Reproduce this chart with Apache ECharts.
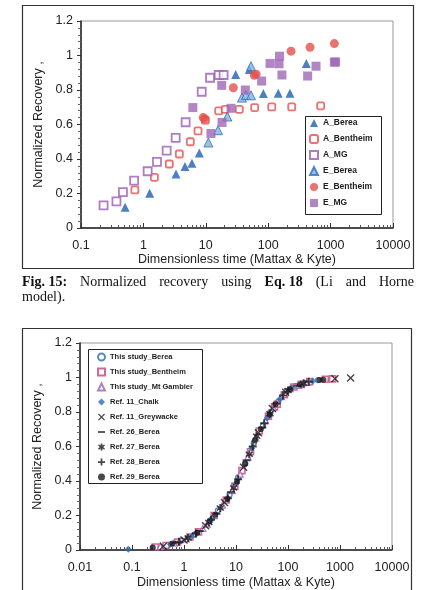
<!DOCTYPE html>
<html>
<head>
<meta charset="utf-8">
<script src="https://cdn.jsdelivr.net/npm/echarts@6/dist/echarts.min.js"></script>
<style>
  html, body { margin: 0; padding: 0; background: #fff; }
  #chart { width: 423px; height: 590px; }
</style>
</head>
<body>
<div id="chart"></div>
<script>
// ---- Fig. 15 (Li and Horne model): [dimensionless time, normalized recovery]
const aBerea = [[0.51,0.121],[1.26,0.202],[3.33,0.313],[4.64,0.356],[6.0,0.375],[7.87,0.435],[30.1,0.89],[49.9,0.919],[83.6,0.779],[145,0.781],[223,0.781],[408,0.954]];
const aBentheim = [[0.73,0.221],[1.5,0.294],[2.6,0.371],[3.77,0.429],[5.65,0.5],[7.5,0.563],[9.84,0.625],[16.1,0.679],[20.5,0.688],[34.4,0.688],[60.7,0.698],[114,0.702],[238,0.702],[693,0.708]];
const aMG = [[0.23,0.131],[0.37,0.154],[0.47,0.208],[0.71,0.275],[1.17,0.329],[1.65,0.383],[2.36,0.448],[3.29,0.523],[4.75,0.613],[8.6,0.79],[11.7,0.871],[16.1,0.887],[19.3,0.887]];
const eBerea = [[11,0.496],[15.7,0.567],[22.1,0.646],[38,0.756],[44,0.771],[53,0.769],[53,0.938]];
const eBentheim = [[9.1,0.64],[9.6,0.632],[27.6,0.813],[60,0.885],[64,0.892],[232,1.025],[468,1.048],[1148,1.069]];
const eMG = [[6.2,0.698],[12.1,0.548],[18.2,0.612],[18,0.827],[25.4,0.694],[43,0.8],[78.5,0.852],[107,0.954],[149,0.952],[152,0.996],[166,0.887],[429,0.881],[584,0.938],[1148,0.962],[1200,0.962]];

// ---- lower chart (all data sets)
const thisBerea = [[0.26,0.016],[0.5,0.03],[0.9,0.055],[1.6,0.09],[3.2,0.17],[4.5,0.23],[7.5,0.32],[11,0.42],[15,0.5],[22,0.62],[33,0.72],[46,0.8],[65,0.86],[95,0.92],[140,0.95],[210,0.967],[380,0.985]];
const thisBentheim = [[0.28,0.017],[0.45,0.026],[0.75,0.046],[1.3,0.075],[1.9,0.105],[3.8,0.2],[6.5,0.29],[9.5,0.37],[13,0.46],[19,0.57],[28,0.69],[42,0.775],[55,0.83],[62,0.845],[85,0.9],[130,0.945],[180,0.96],[260,0.976],[520,0.99],[720,0.992]];
const thisMtGambier = [[0.35,0.02],[0.65,0.04],[1.1,0.064],[2.3,0.125],[2.8,0.15],[5.5,0.26],[8.5,0.345],[12,0.44],[17,0.54],[24,0.65],[37,0.75],[52,0.825],[75,0.89],[110,0.935],[160,0.955],[230,0.972]];
const ref11Chalk = [[0.085,0.004],[0.55,0.034],[1.4,0.08],[3.5,0.185],[10,0.385],[20,0.59],[40,0.765],[70,0.875],[120,0.94],[300,0.98]];
const ref11Greywacke = [[0.4,0.022],[1.0,0.058],[2.6,0.14],[6,0.275],[14,0.48],[27,0.68],[50,0.82],[90,0.915],[800,0.993],[1600,0.997]];
const ref26Berea = [[0.7,0.042],[2,0.11],[4.2,0.21],[8,0.335],[16,0.52],[32,0.71],[60,0.85],[150,0.952]];
const ref27Berea = [[1.2,0.07],[3,0.16],[5,0.243],[9,0.36],[18,0.555],[25,0.66],[45,0.79],[100,0.925],[200,0.966]];
const ref28Berea = [[0.8,0.048],[1.7,0.095],[3.3,0.175],[7,0.3],[11,0.41],[21,0.6],[35,0.735],[80,0.895],[250,0.975]];
const ref29Berea = [[0.25,0.015],[0.6,0.037],[1.8,0.1],[4,0.205],[6.8,0.295],[10.5,0.395],[15,0.5],[23,0.635],[30,0.7],[44,0.785],[58,0.845],[110,0.932],[170,0.958],[400,0.986],[480,0.987]];

const captionWords = [['Fig. 15:', true], ['Normalized'], ['recovery'], ['using'], ['Eq. 18', true], ['(Li'], ['and'], ['Horne']];
const captionTail = 'model).';

const SANS = '"Liberation Sans", Arial, sans-serif';
const SERIF = '"Liberation Serif", "Times New Roman", serif';
const PLUS = 'path://M-1,-4L1,-4L1,-1L4,-1L4,1L1,1L1,4L-1,4L-1,1L-4,1L-4,-1L-1,-1Z';
const CROSS = 'path://M-4,-3L-3,-4L0,-1L3,-4L4,-3L1,0L4,3L3,4L0,1L-3,4L-4,3L-1,0Z';
const STAR = 'path://M-1,-4L1,-4L1,-1.6L3,-3L4,-2L2,0L4,2L3,3L1,1.6L1,4L-1,4L-1,1.6L-3,3L-4,2L-2,0L-4,-2L-3,-3L-1,-1.6Z';
const DASH = 'path://M0,0L8,0L8,2L0,2Z';

const chart = echarts.init(document.getElementById('chart'));

function xAxis(gridIndex, min) {
  return {
    gridIndex, type: 'log', logBase: 10, min, max: 10000,
    name: 'Dimensionless time (Mattax & Kyte)', nameLocation: 'middle', nameGap: gridIndex ? 26 : 23,
    nameTextStyle: { fontFamily: SANS, fontSize: 12.5, color: '#222' },
    axisLine: { lineStyle: { color: '#222', width: 1.5 } },
    axisTick: { inside: true, length: 5, lineStyle: { color: '#333' } },
    minorTick: { show: true, splitNumber: 9, length: 3, lineStyle: { color: '#555' } },
    axisLabel: { fontFamily: SANS, fontSize: 12.5, color: '#222', margin: 11, formatter: (v) => String(v) },
    splitLine: { show: false },
  };
}

function yAxis(gridIndex) {
  return {
    gridIndex, type: 'value', min: 0, max: 1.2, interval: 0.2,
    name: 'Normalized Recovery ,', nameLocation: 'middle', nameGap: 32,
    nameTextStyle: { fontFamily: SANS, fontSize: 12.5, color: '#222' },
    axisLine: { show: true, lineStyle: { color: '#222', width: 1.5 } },
    axisTick: { show: true, length: 4, lineStyle: { color: '#333' } },
    minorTick: { show: true, splitNumber: 5, length: 3, lineStyle: { color: '#666' } },
    axisLabel: { fontFamily: SANS, fontSize: 12.5, color: '#222', margin: 8 },
    splitLine: { show: false },
  };
}

function open(color, width) {
  return { color: '#fff', borderColor: color, borderWidth: width || 1.8 };
}

function scatter(name, data, g, symbol, symbolSize, itemStyle) {
  return { name, type: 'scatter', data, xAxisIndex: g, yAxisIndex: g, symbol, symbolSize, symbolKeepAspect: true, itemStyle, z: 3 };
}

const topSeries = [
  scatter('A_Berea', aBerea, 0, 'triangle', 9, { color: '#2160b0' }),
  scatter('A_Bentheim', aBentheim, 0, 'roundRect', 7, open('#e3504c')),
  scatter('A_MG', aMG, 0, 'rect', 8, open('#9a5db5')),
  scatter('E_Berea', eBerea, 0, 'triangle', 9, { color: '#86b2e0', borderColor: '#2f6fb5', borderWidth: 1 }),
  scatter('E_Bentheim', eBentheim, 0, 'circle', 9, { color: '#e4504a' }),
  scatter('E_MG', eMG, 0, 'rect', 9, { color: '#9f66b7' }),
];

const bottomSeries = [
  scatter('This study_Berea', thisBerea, 1, 'circle', 5, open('#2f6db8', 1.4)),
  scatter('This study_Bentheim', thisBentheim, 1, 'rect', 6, open('#c8437a', 1.6)),
  scatter('This study_Mt Gambier', thisMtGambier, 1, 'triangle', 6, open('#9a63b0', 1.3)),
  scatter('Ref. 11_Chalk', ref11Chalk, 1, 'diamond', 7, { color: '#2d6cb5' }),
  scatter('Ref. 11_Greywacke', ref11Greywacke, 1, CROSS, 8, { color: '#1a1a1a' }),
  scatter('Ref. 26_Berea', ref26Berea, 1, DASH, 8, { color: '#1a1a1a' }),
  scatter('Ref. 27_Berea', ref27Berea, 1, STAR, 8, { color: '#1a1a1a' }),
  scatter('Ref. 28_Berea', ref28Berea, 1, PLUS, 8, { color: '#1a1a1a' }),
  scatter('Ref. 29_Berea', ref29Berea, 1, 'circle', 6, { color: '#1a1a1a' }),
];

// caption words spread across the frame width (justified)
const ctx = document.createElement('canvas').getContext('2d');
function fontOf(bold) { return (bold ? 'bold ' : '') + '14px ' + SERIF; }
const widths = captionWords.map(([t, b]) => { ctx.font = fontOf(b); return ctx.measureText(t).width; });
const capLeft = 22, capRight = 414;
const gap = (capRight - capLeft - widths.reduce((a, b) => a + b, 0)) / (captionWords.length - 1);
let cx = capLeft;
const captionEls = captionWords.map(([t, b], i) => {
  const el = { type: 'text', x: cx, y: 282, style: { text: t, fontFamily: SERIF, fontSize: 14, fontWeight: b ? 'bold' : 'normal', fill: '#111', verticalAlign: 'middle' } };
  cx += widths[i] + gap;
  return el;
});
captionEls.push({ type: 'text', x: capLeft, y: 297, style: { text: captionTail, fontFamily: SERIF, fontSize: 14, fill: '#111', verticalAlign: 'middle' } });

function box(x, y, w, h, color, width) {
  return { type: 'rect', shape: { x, y, width: w, height: h }, style: { fill: null, stroke: color, lineWidth: width }, z: 1 };
}

chart.setOption({
  backgroundColor: '#fff',
  animation: false,
  grid: [
    { left: 81, top: 21, width: 312, height: 207, show: true, borderColor: '#999', borderWidth: 1, backgroundColor: 'transparent' },
    { left: 80, top: 343, width: 312, height: 207, show: true, borderColor: '#999', borderWidth: 1, backgroundColor: 'transparent' },
  ],
  xAxis: [xAxis(0, 0.1), xAxis(1, 0.01)],
  yAxis: [yAxis(0), yAxis(1)],
  legend: [
    {
      data: topSeries.map((s) => s.name), orient: 'vertical', left: 309, top: 118,
      itemWidth: 8, itemHeight: 8, itemGap: 6, padding: 0,
      textStyle: { fontFamily: SANS, fontSize: 8.5, fontWeight: 'bold', color: '#222', lineHeight: 10 },
    },
    {
      data: bottomSeries.map((s) => s.name), orient: 'vertical', left: 97, top: 352,
      itemWidth: 7, itemHeight: 7, itemGap: 5, padding: 0,
      textStyle: { fontFamily: SANS, fontSize: 7.5, fontWeight: 'bold', color: '#222', lineHeight: 10 },
    },
  ],
  graphic: [
    box(22.5, 5.5, 391, 263, '#333', 1.2),
    box(305.5, 116.5, 76, 98, '#222', 1),
    box(88.5, 349.5, 114, 134, '#222', 1),
    box(22.5, 328.5, 389, 270, '#333', 1.2),
    ...captionEls,
  ],
  series: [...topSeries, ...bottomSeries],
});
</script>
</body>
</html>
